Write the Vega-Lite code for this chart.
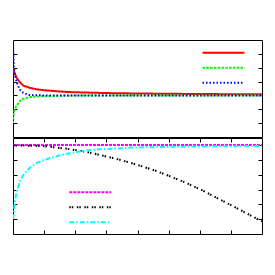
{
  "$schema": "https://vega.github.io/schema/vega-lite/v6.json",
  "padding": {"left": 12, "top": 39, "right": 13, "bottom": 42},
  "background": "white",
  "spacing": -1,
  "config": {
    "view": {"stroke": "#000", "strokeWidth": 1},
    "axis": {"domain": false, "labels": false, "title": null, "grid": false, "ticks": true, "tickSize": -4, "tickColor": "#000", "tickWidth": 1},
    "legend": {"padding": 0, "title": null}
  },
  "datasets": {
    "top": [
      {"s": "a", "x": 0, "y": 5.0}, {"s": "a", "x": 0.05, "y": 4.6}, {"s": "a", "x": 0.12, "y": 4.26}, {"s": "a", "x": 0.2, "y": 4.0},
      {"s": "a", "x": 0.33, "y": 3.71}, {"s": "a", "x": 0.54, "y": 3.55}, {"s": "a", "x": 0.75, "y": 3.45}, {"s": "a", "x": 0.97, "y": 3.38},
      {"s": "a", "x": 1.4, "y": 3.3}, {"s": "a", "x": 1.83, "y": 3.24}, {"s": "a", "x": 3, "y": 3.17}, {"s": "a", "x": 4, "y": 3.14},
      {"s": "a", "x": 5, "y": 3.12}, {"s": "a", "x": 6, "y": 3.1}, {"s": "a", "x": 7, "y": 3.09}, {"s": "a", "x": 8, "y": 3.08},
      {"s": "b", "x": 0, "y": 1.0}, {"s": "b", "x": 0.01, "y": 1.4}, {"s": "b", "x": 0.03, "y": 1.75}, {"s": "b", "x": 0.055, "y": 2.0},
      {"s": "b", "x": 0.11, "y": 2.23}, {"s": "b", "x": 0.215, "y": 2.59}, {"s": "b", "x": 0.32, "y": 2.76}, {"s": "b", "x": 0.54, "y": 2.88},
      {"s": "b", "x": 0.96, "y": 2.95}, {"s": "b", "x": 2, "y": 2.99}, {"s": "b", "x": 8, "y": 3.0},
      {"s": "c", "x": 0, "y": 6.9}, {"s": "c", "x": 0.01, "y": 6.0}, {"s": "c", "x": 0.03, "y": 5.0}, {"s": "c", "x": 0.06, "y": 4.5},
      {"s": "c", "x": 0.11, "y": 4.03}, {"s": "c", "x": 0.16, "y": 3.7}, {"s": "c", "x": 0.22, "y": 3.42}, {"s": "c", "x": 0.33, "y": 3.19},
      {"s": "c", "x": 0.45, "y": 3.08}, {"s": "c", "x": 0.54, "y": 3.03}, {"s": "c", "x": 0.75, "y": 3.01}, {"s": "c", "x": 1, "y": 3.0},
      {"s": "c", "x": 8, "y": 3.0}
    ],
    "bottom": [
      {"s": "m", "x": 0, "y": 6.02}, {"s": "m", "x": 8, "y": 6.02},
      {"s": "k", "x": 0, "y": 6.0}, {"s": "k", "x": 0.96, "y": 5.96}, {"s": "k", "x": 1.77, "y": 5.76}, {"s": "k", "x": 2.36, "y": 5.56},
      {"s": "k", "x": 2.79, "y": 5.35}, {"s": "k", "x": 3.3, "y": 5.1}, {"s": "k", "x": 3.91, "y": 4.74}, {"s": "k", "x": 4.56, "y": 4.3},
      {"s": "k", "x": 4.98, "y": 3.96}, {"s": "k", "x": 5.52, "y": 3.5}, {"s": "k", "x": 6.06, "y": 2.98}, {"s": "k", "x": 6.59, "y": 2.4},
      {"s": "k", "x": 7.13, "y": 1.82}, {"s": "k", "x": 7.67, "y": 1.22}, {"s": "k", "x": 8, "y": 0.85},
      {"s": "n", "x": 0, "y": 1.0}, {"s": "n", "x": 0.02, "y": 1.3}, {"s": "n", "x": 0.055, "y": 2.15}, {"s": "n", "x": 0.11, "y": 2.83},
      {"s": "n", "x": 0.215, "y": 3.5}, {"s": "n", "x": 0.32, "y": 3.97}, {"s": "n", "x": 0.54, "y": 4.49}, {"s": "n", "x": 0.75, "y": 4.8},
      {"s": "n", "x": 0.96, "y": 4.99}, {"s": "n", "x": 1.5, "y": 5.33}, {"s": "n", "x": 2.04, "y": 5.55}, {"s": "n", "x": 2.41, "y": 5.67},
      {"s": "n", "x": 2.79, "y": 5.73}, {"s": "n", "x": 3.85, "y": 5.85}, {"s": "n", "x": 5, "y": 5.9}, {"s": "n", "x": 6.5, "y": 5.94},
      {"s": "n", "x": 8, "y": 5.96}
    ]
  },
  "vconcat": [
    {
      "width": 249,
      "height": 97,
      "data": {"name": "top"},
      "layer": [
        {
          "mark": {"type": "line", "strokeWidth": 2, "clip": true},
          "encoding": {
            "x": {"field": "x", "type": "quantitative", "scale": {"domain": [0, 8], "nice": false, "zero": false}, "axis": {"orient": "bottom", "values": [1, 2, 3, 4, 5, 6, 7]}},
            "y": {"field": "y", "type": "quantitative", "scale": {"domain": [0, 7], "nice": false, "zero": false}, "axis": {"orient": "left", "values": [1, 2, 3, 4, 5, 6]}},
            "color": {"field": "s", "type": "nominal", "scale": {"domain": ["a", "b", "c"], "range": ["#ff0000", "#00ff00", "#0000ff"]},
              "legend": {"orient": "none", "legendX": 188.5, "legendY": 5.7, "labelExpr": "''", "symbolType": "stroke", "symbolSize": 1764, "symbolStrokeWidth": 2, "clipHeight": 14.1, "rowPadding": 0, "labelOffset": 0, "title": null}},
            "strokeDash": {"field": "s", "type": "nominal", "scale": {"domain": ["a", "b", "c"], "range": [[1, 0], [2.5, 1.3], [1.5, 2]]},
              "legend": {"orient": "none", "legendX": 188.5, "legendY": 5.7, "labelExpr": "''", "symbolType": "stroke", "symbolSize": 1764, "symbolStrokeWidth": 2, "clipHeight": 14.1, "rowPadding": 0, "labelOffset": 0, "title": null}}
          }
        },
        {
          "mark": {"type": "line", "opacity": 0},
          "encoding": {
            "x": {"field": "x", "type": "quantitative", "axis": null},
            "y": {"field": "y", "type": "quantitative", "axis": {"orient": "right", "values": [1, 2, 3, 4, 5, 6]}}
          }
        }
      ],
      "resolve": {"axis": {"y": "independent"}}
    },
    {
      "width": 249,
      "height": 96,
      "data": {"name": "bottom"},
      "layer": [
        {
          "mark": {"type": "line", "strokeWidth": 2, "clip": true},
          "encoding": {
            "x": {"field": "x", "type": "quantitative", "scale": {"domain": [0, 8], "nice": false, "zero": false}, "axis": {"orient": "bottom", "values": [1, 2, 3, 4, 5, 6, 7]}},
            "y": {"field": "y", "type": "quantitative", "scale": {"domain": [0, 6.5], "nice": false, "zero": false}, "axis": {"orient": "left", "values": [1, 2, 3, 4, 5, 6]}},
            "color": {"field": "s", "type": "nominal", "scale": {"domain": ["m", "k", "n"], "range": ["#ff00ff", "#000000", "#00ffff"]},
              "legend": {"orient": "none", "legendX": 55.3, "legendY": 47, "labelExpr": "''", "symbolType": "stroke", "symbolSize": 1764, "symbolStrokeWidth": 2, "clipHeight": 14.3, "rowPadding": 0, "labelOffset": 0, "title": null}},
            "strokeDash": {"field": "s", "type": "nominal", "scale": {"domain": ["m", "k", "n"], "range": [[3, 1], [1.5, 1, 1.5, 3.5], [5, 2, 1.5, 2]]},
              "legend": {"orient": "none", "legendX": 55.3, "legendY": 47, "labelExpr": "''", "symbolType": "stroke", "symbolSize": 1764, "symbolStrokeWidth": 2, "clipHeight": 14.3, "rowPadding": 0, "labelOffset": 0, "title": null}}
          }
        },
        {
          "mark": {"type": "line", "opacity": 0},
          "encoding": {
            "x": {"field": "x", "type": "quantitative", "axis": {"orient": "top", "values": [1, 2, 3, 4, 5, 6, 7]}},
            "y": {"field": "y", "type": "quantitative", "axis": {"orient": "right", "values": [1, 2, 3, 4, 5, 6]}}
          }
        }
      ],
      "resolve": {"axis": {"x": "independent", "y": "independent"}}
    }
  ],
  "resolve": {"scale": {"color": "independent", "strokeDash": "independent"}, "legend": {"color": "independent", "strokeDash": "independent"}}
}
